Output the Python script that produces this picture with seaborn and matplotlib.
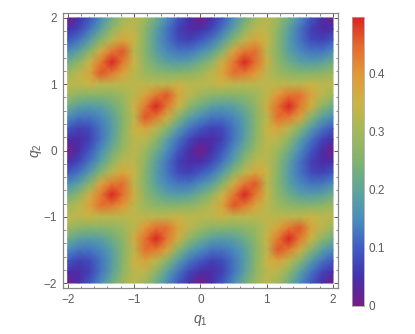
import numpy as np
import pandas as pd
import matplotlib
matplotlib.use('Agg')
import matplotlib.pyplot as plt
from matplotlib.colors import LinearSegmentedColormap
import seaborn as sns

# values, q2 from 2 (top) to -2 (bottom), q1 from -2 to 2, step 1/6
density_values = [
    [0,.045,.095,.15,.225,.29,.33,.29,.225,.15,.095,.045, 0,.045,.095,.15,.225,.29,.33,.29,.225,.15,.095,.045, 0],
    [.045,.075,.125,.19,.27,.33,.33,.27,.19,.125,.07,.04, .045,.075,.125,.19,.27,.33,.33,.27,.19,.125,.07,.04, .045],
    [.095,.125,.18,.26,.33,.38,.35,.26,.18,.125,.08,.07, .095,.125,.18,.26,.33,.38,.35,.26,.18,.125,.08,.07, .095],
    [.15,.19,.26,.36,.43,.46,.33,.26,.19,.145,.125,.125, .15,.19,.26,.38,.43,.44,.33,.26,.19,.145,.125,.125, .15],
    [.225,.27,.35,.43,.498,.43,.35,.27,.225,.19,.18,.19, .225,.27,.36,.43,.498,.44,.36,.27,.225,.19,.18,.19, .225],
    [.29,.33,.38,.46,.43,.38,.33,.29,.27,.26,.26,.27, .29,.33,.38,.44,.43,.40,.33,.29,.27,.26,.26,.27, .29],
    [.33,.33,.35,.33,.33,.33,.33,.33,.33,.33,.35,.33, .33,.33,.35,.33,.33,.33,.33,.33,.33,.33,.35,.33, .33],
    [.29,.27,.26,.26,.27,.29,.33,.38,.43,.46,.38,.33, .29,.27,.26,.26,.27,.29,.33,.40,.44,.44,.38,.33, .29],
    [.225,.19,.18,.19,.225,.27,.35,.43,.498,.43,.35,.27, .225,.19,.18,.19,.225,.27,.36,.44,.498,.43,.36,.27, .225],
    [.15,.125,.125,.145,.19,.26,.33,.46,.43,.36,.26,.19, .15,.125,.125,.145,.19,.26,.33,.44,.43,.38,.26,.19, .15],
    [.095,.07,.08,.125,.18,.26,.35,.38,.33,.26,.18,.125, .095,.07,.08,.125,.18,.26,.35,.38,.33,.26,.18,.125, .095],
    [.045,.04,.07,.125,.19,.27,.33,.33,.27,.19,.125,.075, .045,.04,.07,.125,.19,.27,.33,.33,.27,.19,.125,.075, .045],
    [0,.045,.095,.15,.225,.29,.33,.29,.225,.15,.095,.045, 0,.045,.095,.15,.225,.29,.33,.29,.225,.15,.095,.045, 0],
    [.045,.075,.125,.19,.27,.33,.33,.27,.19,.125,.07,.04, .045,.075,.125,.19,.27,.33,.33,.27,.19,.125,.07,.04, .045],
    [.095,.125,.18,.26,.33,.38,.35,.26,.18,.125,.08,.07, .095,.125,.18,.26,.33,.38,.35,.26,.18,.125,.08,.07, .095],
    [.15,.19,.26,.38,.43,.44,.33,.26,.19,.145,.125,.125, .15,.19,.26,.36,.43,.46,.33,.26,.19,.145,.125,.125, .15],
    [.225,.27,.36,.43,.498,.44,.36,.27,.225,.19,.18,.19, .225,.27,.35,.43,.498,.43,.35,.27,.225,.19,.18,.19, .225],
    [.29,.33,.38,.44,.43,.40,.33,.29,.27,.26,.26,.27, .29,.33,.38,.46,.43,.38,.33,.29,.27,.26,.26,.27, .29],
    [.33,.33,.35,.33,.33,.33,.33,.33,.33,.33,.35,.33, .33,.33,.35,.33,.33,.33,.33,.33,.33,.33,.35,.33, .33],
    [.29,.27,.26,.26,.27,.29,.33,.40,.44,.44,.38,.33, .29,.27,.26,.26,.27,.29,.33,.38,.43,.46,.38,.33, .29],
    [.225,.19,.18,.19,.225,.27,.36,.44,.498,.43,.36,.27, .225,.19,.18,.19,.225,.27,.35,.43,.498,.43,.35,.27, .225],
    [.15,.125,.125,.145,.19,.26,.33,.44,.43,.38,.26,.19, .15,.125,.125,.145,.19,.26,.33,.46,.43,.36,.26,.19, .15],
    [.095,.07,.08,.125,.18,.26,.35,.38,.33,.26,.18,.125, .095,.07,.08,.125,.18,.26,.35,.38,.33,.26,.18,.125, .095],
    [.045,.04,.07,.125,.19,.27,.33,.33,.27,.19,.125,.075, .045,.04,.07,.125,.19,.27,.33,.33,.27,.19,.125,.075, .045],
    [0,.045,.095,.15,.225,.29,.33,.29,.225,.15,.095,.045, 0,.045,.095,.15,.225,.29,.33,.29,.225,.15,.095,.045, 0],
]
q_ticks = [-2, -1, 0, 1, 2]
q_tick_labels = ['\u22122', '\u22121', '0', '1', '2']
bar_ticks = [0, 0.1, 0.2, 0.3, 0.4]
bar_tick_labels = ['0', '0.1', '0.2', '0.3', '0.4']
rainbow_colors = ['#781c86', '#4431ae', '#3f5cc4', '#4a8dbd', '#5ea59a', '#7fb370',
                  '#a3b85a', '#c9b546', '#e29a38', '#e46a2d', '#d92623']

sns.set_style('white')
plt.rcParams['font.family'] = ['Liberation Sans', 'DejaVu Sans']
plt.rcParams['mathtext.fontset'] = 'custom'
plt.rcParams['mathtext.it'] = 'Liberation Sans:italic'
plt.rcParams['mathtext.rm'] = 'Liberation Sans'

gray = '#5c5c5c'
W, H = 415, 334
fig = plt.figure(figsize=(W / 100, H / 100), dpi=100)
ax = fig.add_axes([62.7 / W, 1 - 288 / H, 275.3 / W, 275 / H])
cax = fig.add_axes([352 / W, 1 - 306 / H, 12 / W, 289 / H])

cmap = LinearSegmentedColormap.from_list('rainbow_like', rainbow_colors)
df = pd.DataFrame(density_values)
sns.heatmap(df, ax=ax, cbar_ax=cax, cmap=cmap, vmin=0, vmax=0.498,
            xticklabels=False, yticklabels=False, shading='gouraud')

# mesh points sit on the integer positions, 6 per unit of q
def to_x(q):
    return (np.asarray(q) + 2) * 6

def to_y(q):
    return (2 - np.asarray(q)) * 6

ax.set_xlim(-0.45, 24.45)
ax.set_ylim(24.45, -0.45)
minor = np.arange(-2, 2.01, 0.2)
ax.set_xticks(to_x(q_ticks))
ax.set_xticklabels(q_tick_labels)
ax.set_yticks(to_y(q_ticks))
ax.set_yticklabels(q_tick_labels)
ax.set_xticks(to_x(minor), minor=True)
ax.set_yticks(to_y(minor), minor=True)
ax.tick_params(which='major', direction='in', length=3.2, width=0.7, color=gray,
               top=True, right=True, bottom=True, left=True,
               labelsize=8.5, labelcolor=gray, pad=4)
ax.tick_params(which='minor', direction='in', length=1.8, width=0.5, color=gray,
               top=True, right=True, bottom=True, left=True)
for s in ax.spines.values():
    s.set_visible(True)
    s.set_color('#888888')
    s.set_linewidth(0.9)
ax.set_xlabel('$q_1$', fontsize=10, color=gray, labelpad=5)
ax.set_ylabel('$q_2$', fontsize=10, color=gray, labelpad=0)

cax.set_yticks(bar_ticks)
cax.set_yticklabels(bar_tick_labels)
cax.tick_params(axis='y', direction='in', length=2, width=0.5, color=gray,
                labelsize=8.5, labelcolor=gray, pad=3, right=True, left=False)
for s in cax.spines.values():
    s.set_visible(True)
    s.set_color('#aaaaaa')
    s.set_linewidth(0.4)

fig.savefig('out.png', dpi=100)
